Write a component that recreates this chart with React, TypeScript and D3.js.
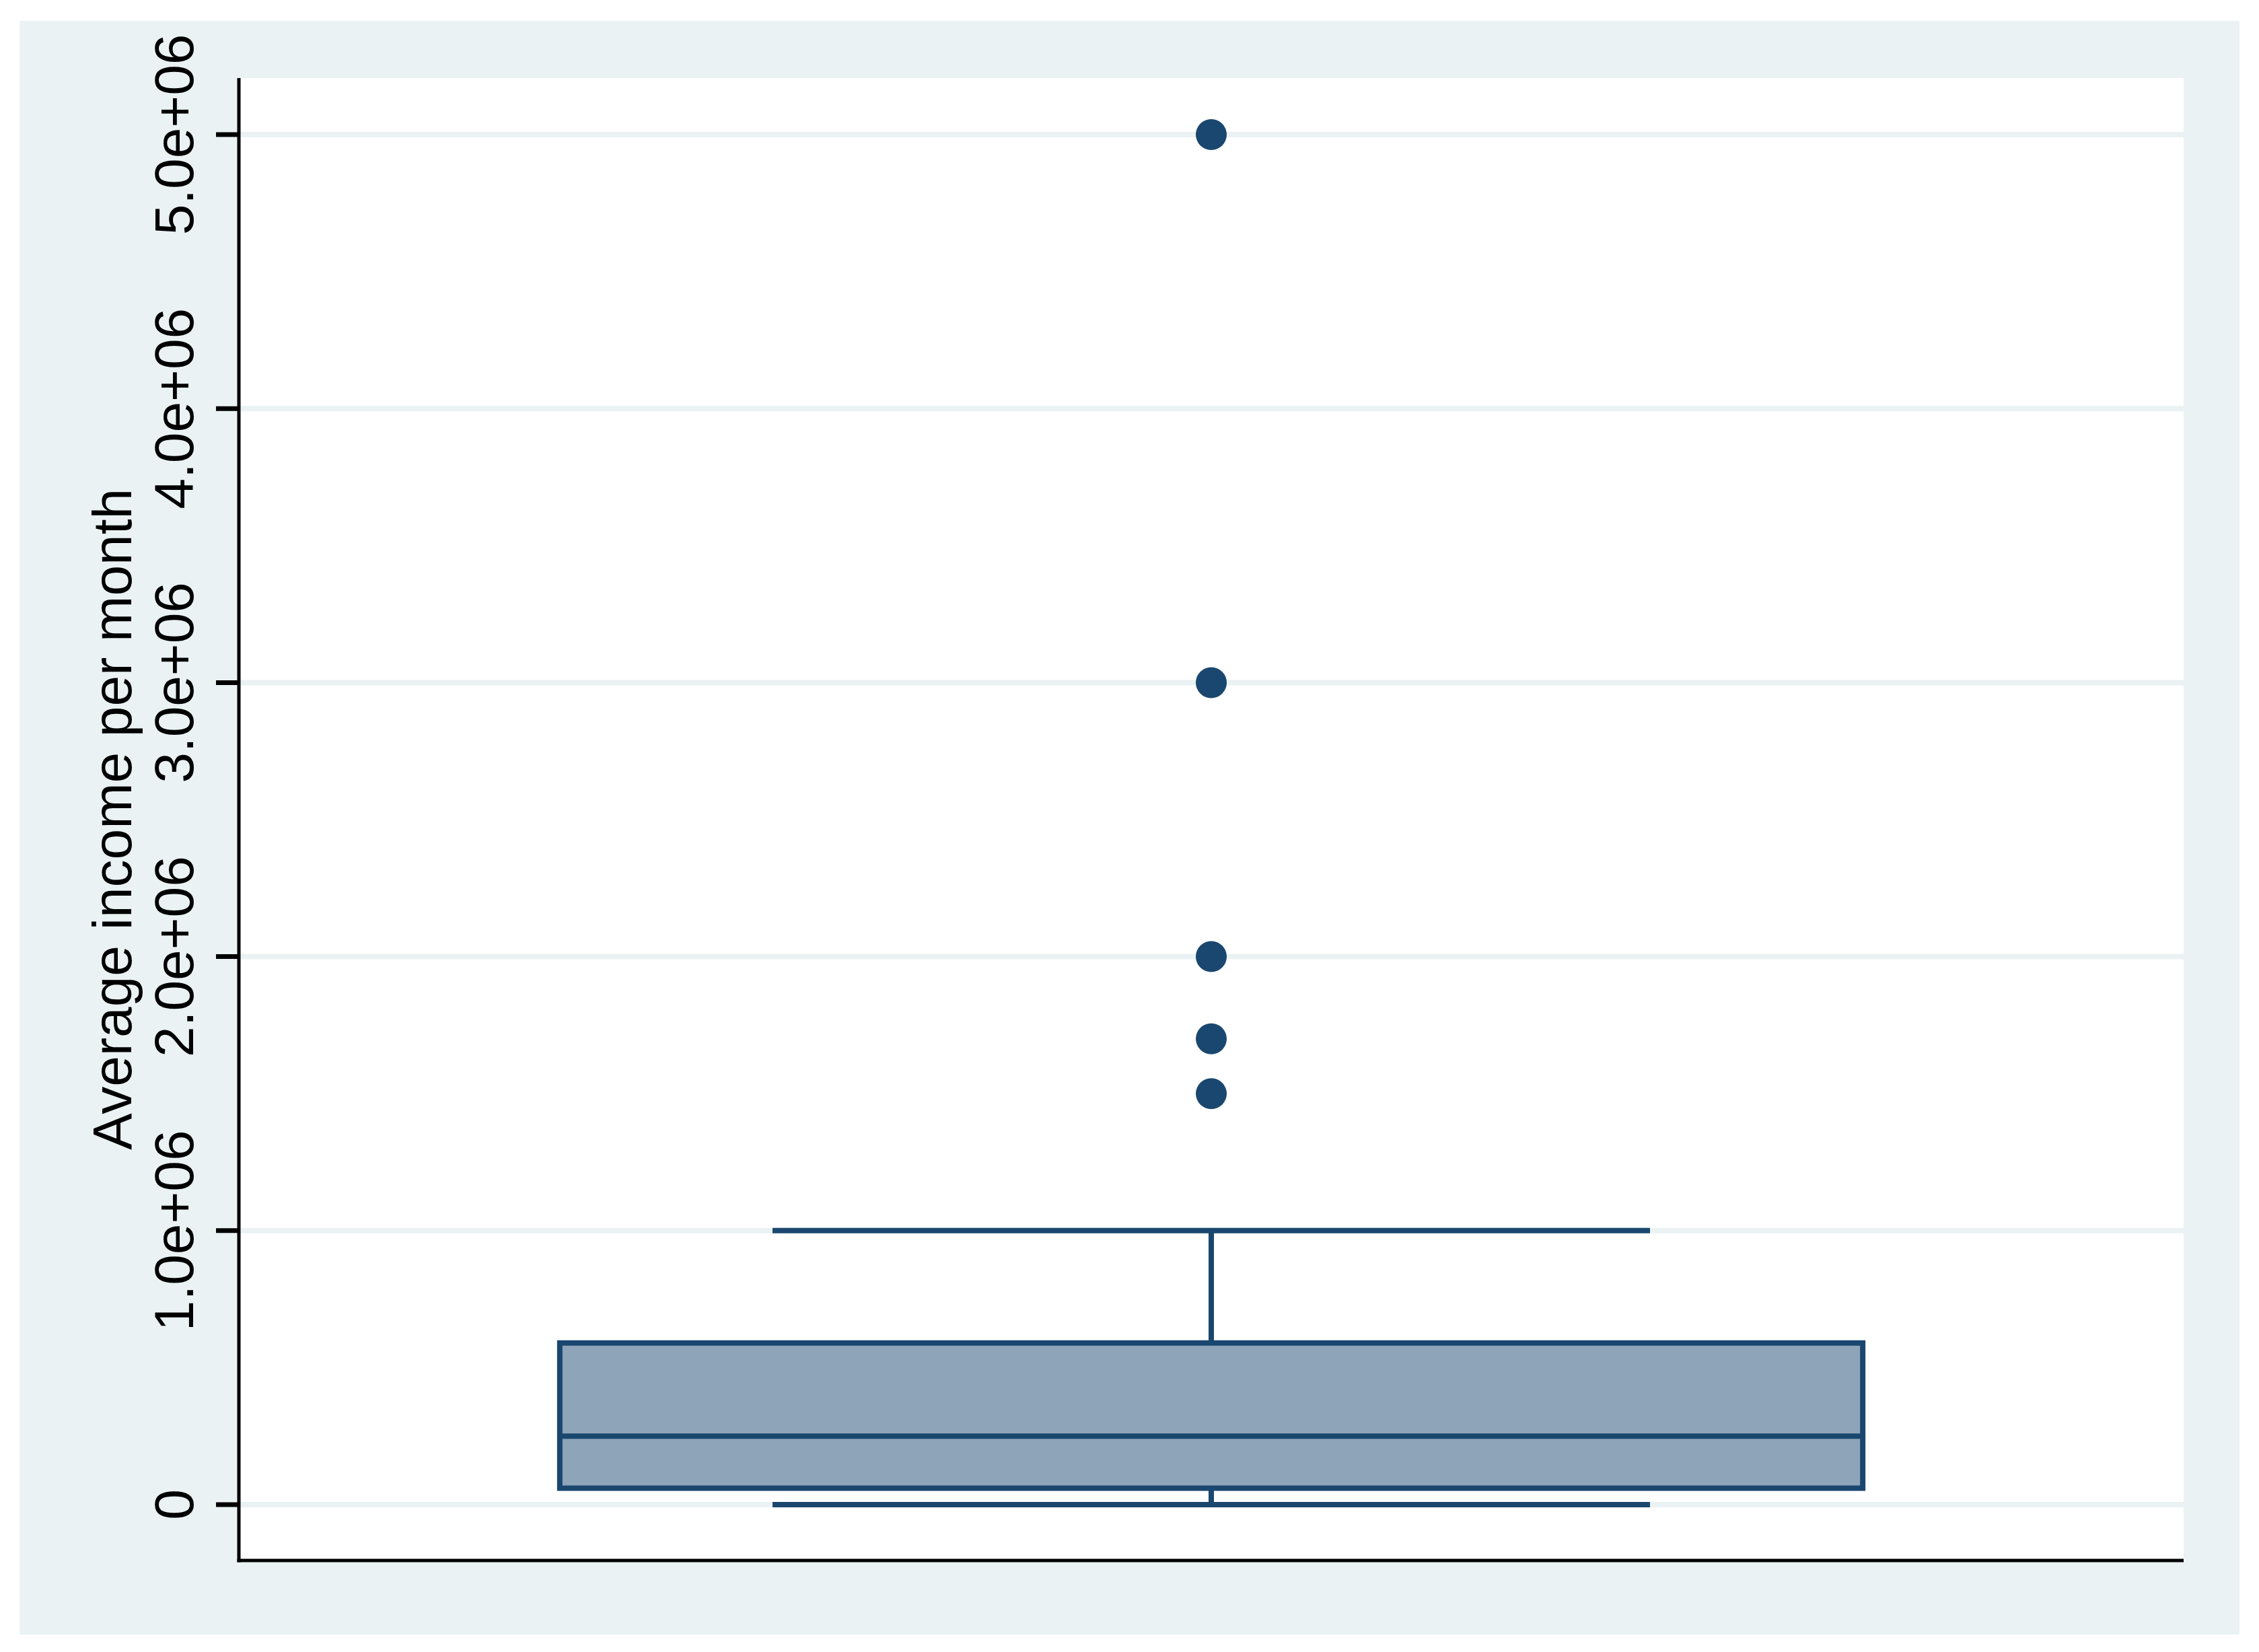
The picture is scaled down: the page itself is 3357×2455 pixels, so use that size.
import React from "react";
import * as d3 from "d3";

// box plot of average monthly income
const yTitle = "Average income per month";
const quartiles = [60000, 250000, 590000]; // q1, median, q3
const whiskers = [0, 1000000]; // lower / upper adjacent values
const outliers = [1500000, 1700000, 2000000, 3000000, 5000000];
const yTicks = [0, 1000000, 2000000, 3000000, 4000000, 5000000];
const yTickLabels = ["0", "1.0e+06", "2.0e+06", "3.0e+06", "4.0e+06", "5.0e+06"];

const W = 3357;
const H = 2455;
const navy = "#1A476F";
const light = "#EAF2F3";
const font = "'Liberation Sans', Arial, Helvetica, sans-serif";

const App = () => {
  const plot = { left: 355, right: 3245, top: 116, bottom: 2319 };
  const y = d3.scaleLinear().domain([0, 5000000]).range([2236, 200]);
  const x = d3.scaleLinear().domain([0, 1]).range([plot.left, plot.right]);

  const cx = x(0.5);
  const boxL = x(0.5 - 0.335);
  const boxR = x(0.5 + 0.335);
  const capL = x(0.5 - 0.2256);
  const capR = x(0.5 + 0.2256);
  const [q1, med, q3] = quartiles;

  return (
    <svg
      width={W}
      height={H}
      style={{ position: "absolute", left: 0, top: 0, display: "block" }}
      fontFamily={font}
    >
      <rect width={W} height={H} fill="#ffffff" />
      <rect x={29} y={31} width={3328 - 29} height={2429 - 31} fill={light} />
      <rect
        x={plot.left}
        y={plot.top}
        width={plot.right - plot.left}
        height={plot.bottom - plot.top}
        fill="#ffffff"
      />

      {/* grid lines */}
      {yTicks.map((t) => (
        <line key={"g" + t} x1={plot.left} x2={plot.right} y1={y(t)} y2={y(t)} stroke={light} strokeWidth={8} />
      ))}

      {/* whiskers */}
      <line x1={cx} x2={cx} y1={y(q3)} y2={y(whiskers[1])} stroke={navy} strokeWidth={8} />
      <line x1={cx} x2={cx} y1={y(q1)} y2={y(whiskers[0])} stroke={navy} strokeWidth={8} />
      {whiskers.map((w) => (
        <line key={"w" + w} x1={capL} x2={capR} y1={y(w)} y2={y(w)} stroke={navy} strokeWidth={8} />
      ))}

      {/* box */}
      <rect
        x={boxL}
        y={y(q3)}
        width={boxR - boxL}
        height={y(q1) - y(q3)}
        fill="#8EA4B8"
        stroke={navy}
        strokeWidth={8}
      />
      <line x1={boxL} x2={boxR} y1={y(med)} y2={y(med)} stroke={navy} strokeWidth={8} />

      {/* outside values */}
      {outliers.map((o) => (
        <circle key={"o" + o} cx={cx} cy={y(o)} r={23} fill={navy} />
      ))}

      {/* axes */}
      <line x1={plot.left} x2={plot.left} y1={plot.top} y2={plot.bottom + 2.5} stroke="#000" strokeWidth={5} />
      <line x1={plot.left - 2.5} x2={plot.right} y1={plot.bottom} y2={plot.bottom} stroke="#000" strokeWidth={5} />
      {yTicks.map((t, i) => (
        <g key={"t" + t}>
          <line x1={321} x2={plot.left} y1={y(t)} y2={y(t)} stroke="#000" strokeWidth={7} />
          <text
            transform={`translate(287,${y(t)}) rotate(-90)`}
            textAnchor="middle"
            fontSize={82}
            fill="#000"
          >
            {yTickLabels[i]}
          </text>
        </g>
      ))}
      <text
        transform={`translate(195,${(plot.top + plot.bottom) / 2}) rotate(-90)`}
        textAnchor="middle"
        fontSize={82}
        fill="#000"
      >
        {yTitle}
      </text>
    </svg>
  );
};

export default App;
